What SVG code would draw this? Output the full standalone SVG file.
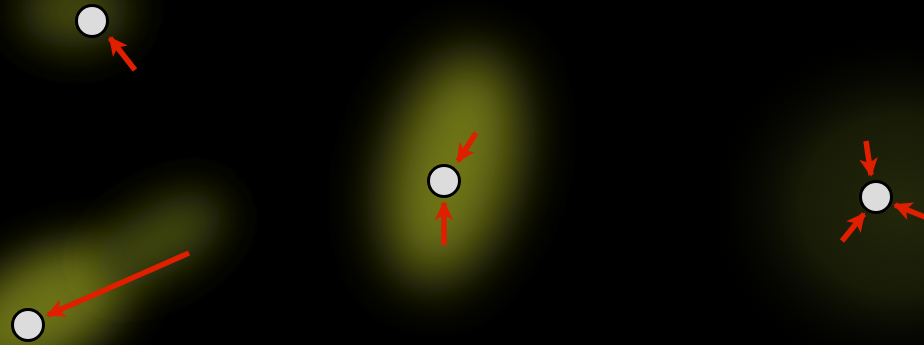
<svg xmlns="http://www.w3.org/2000/svg" width="924" height="345" viewBox="0 0 924 345">
<defs>
<filter id="blurM" x="-100%" y="-100%" width="300%" height="300%"><feGaussianBlur stdDeviation="28"/></filter>
<filter id="blurS" x="-100%" y="-100%" width="300%" height="300%"><feGaussianBlur stdDeviation="22"/></filter>
<radialGradient id="gR" cx="0.5" cy="0.5" r="0.5">
<stop offset="0" stop-color="#23270a"/>
<stop offset="0.5" stop-color="#171a06"/>
<stop offset="1" stop-color="#000" stop-opacity="0"/>
</radialGradient>
<marker id="ah" viewBox="0 0 10 10" refX="9" refY="5" markerWidth="3.8" markerHeight="3.4" orient="auto" markerUnits="strokeWidth">
<path d="M0,0 L10,5 L0,10 L2.5,5 Z" fill="#e01e00"/>
</marker>
<style>
.node{fill:#dcdcdc;stroke:#000;stroke-width:3}
.arrow{stroke:#e01e00;stroke-width:5.5;fill:none;marker-end:url(#ah)}
</style>
</defs>
<rect width="924" height="345" fill="#000"/>
<g id="glows">
<ellipse cx="900" cy="205" rx="200" ry="180" fill="url(#gR)"/>
<ellipse cx="452" cy="168" rx="62" ry="118" transform="rotate(15 452 168)" fill="#6f7616" filter="url(#blurM)"/>
<ellipse cx="75" cy="10" rx="55" ry="38" fill="#454a11" filter="url(#blurS)"/>
<ellipse cx="45" cy="308" rx="95" ry="52" transform="rotate(-30 45 308)" fill="#6a7115" filter="url(#blurS)"/>
<ellipse cx="160" cy="240" rx="72" ry="34" transform="rotate(-30 160 240)" fill="#434810" filter="url(#blurS)"/>
</g>
<g id="connectors">
<line class="arrow" x1="135" y1="70" x2="110" y2="38"/>
<line class="arrow" x1="476" y1="133" x2="458" y2="161"/>
<line class="arrow" x1="444" y1="245" x2="444" y2="203"/>
<line class="arrow" x1="866" y1="141" x2="871" y2="175"/>
<line class="arrow" x1="842" y1="241" x2="864" y2="214"/>
<line class="arrow" x1="930" y1="219" x2="895" y2="205"/>
<line class="arrow" x1="189" y1="253" x2="48" y2="315"/>
</g>
<g id="node1"><circle class="node" cx="92" cy="21" r="15.5"/></g>
<g id="node2"><circle class="node" cx="444" cy="181" r="15.5"/></g>
<g id="node3"><circle class="node" cx="876" cy="197" r="15.5"/></g>
<g id="node4"><circle class="node" cx="28" cy="325" r="15.5"/></g>
</svg>
